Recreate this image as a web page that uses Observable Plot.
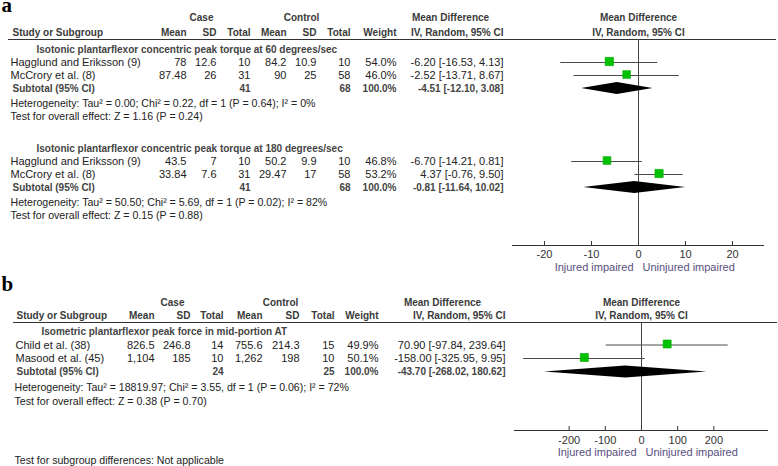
<!DOCTYPE html>
<html><head><meta charset="utf-8">
<script src="https://cdn.jsdelivr.net/npm/d3@7"></script>
<script src="https://cdn.jsdelivr.net/npm/@observablehq/plot@0.6"></script>
<style>body{margin:0;background:#fff}#chart svg{display:block}</style>
</head><body><div id="chart"></div>
<script>
// ---------- DATA: panel a, 60 deg/sec ----------
const a60Title = "Isotonic plantarflexor concentric peak torque at 60 degrees/sec";
const a60Studies = ["Hagglund and Eriksson (9)", "McCrory et al. (8)"];
const a60CaseMean = [78, 87.48];
const a60CaseSD = [12.6, 26];
const a60CaseN = [10, 31];
const a60CtrlMean = [84.2, 90];
const a60CtrlSD = [10.9, 25];
const a60CtrlN = [10, 58];
const a60Weight = [54.0, 46.0];
const a60MD = [-6.20, -2.52];
const a60Lo = [-16.53, -13.71];
const a60Hi = [4.13, 8.67];
const a60Sub = [-4.51, -12.10, 3.08];
const a60Het = "Heterogeneity: Tau² = 0.00; Chi² = 0.22, df = 1 (P = 0.64); I² = 0%";
const a60Test = "Test for overall effect: Z = 1.16 (P = 0.24)";

// ---------- DATA: panel a, 180 deg/sec ----------
const a180Title = "Isotonic plantarflexor concentric peak torque at 180 degrees/sec";
const a180Studies = ["Hagglund and Eriksson (9)", "McCrory et al. (8)"];
const a180CaseMean = [43.5, 33.84];
const a180CaseSD = [7, 7.6];
const a180CaseN = [10, 31];
const a180CtrlMean = [50.2, 29.47];
const a180CtrlSD = [9.9, 17];
const a180CtrlN = [10, 58];
const a180Weight = [46.8, 53.2];
const a180MD = [-6.70, 4.37];
const a180Lo = [-14.21, -0.76];
const a180Hi = [0.81, 9.50];
const a180Sub = [-0.81, -11.64, 10.02];
const a180Het = "Heterogeneity: Tau² = 50.50; Chi² = 5.69, df = 1 (P = 0.02); I² = 82%";
const a180Test = "Test for overall effect: Z = 0.15 (P = 0.88)";

// ---------- DATA: panel b ----------
const bTitle = "Isometric plantarflexor peak force in mid-portion AT";
const bStudies = ["Child et al. (38)", "Masood et al. (45)"];
const bCaseMean = [826.5, 1104];
const bCaseSD = [246.8, 185];
const bCaseN = [14, 10];
const bCtrlMean = [755.6, 1262];
const bCtrlSD = [214.3, 198];
const bCtrlN = [15, 10];
const bWeight = [49.9, 50.1];
const bMD = [70.90, -158.00];
const bLo = [-97.84, -325.95];
const bHi = [239.64, 9.95];
const bSub = [-43.70, -268.02, 180.62];
const bHet = "Heterogeneity: Tau² = 18819.97; Chi² = 3.55, df = 1 (P = 0.06); I² = 72%";
const bTest = "Test for overall effect: Z = 0.38 (P = 0.70)";
const bFooter = "Test for subgroup differences: Not applicable";

// ---------- TICKS & LABELS ----------
const aTicks = [-20, -10, 0, 10, 20];
const bTicks = [-200, -100, 0, 100, 200];
const leftFavour = "Injured impaired";
const rightFavour = "Uninjured impaired";
const headCase = "Case", headControl = "Control", headMD = "Mean Difference", headIV = "IV, Random, 95% CI";
const headCols = ["Study or Subgroup", "Mean", "SD", "Total", "Mean", "SD", "Total", "Weight"];

// ---------- helpers ----------
const num = d3.format(",");
const f2 = d => d.toFixed(2);
const ci = (m, l, h) => `${f2(m)} [${f2(l)}, ${f2(h)}]`;

function group(title, studies, cm, cs, cn, km, ks, kn, w, md, lo, hi, sub, het, test) {
  return {
    title, het, test, sub,
    caseTotal: d3.sum(cn), ctrlTotal: d3.sum(kn),
    studies: studies.map((s, i) => ({
      name: s, cm: num(cm[i]), cs: num(cs[i]), cn: String(cn[i]),
      km: num(km[i]), ks: num(ks[i]), kn: String(kn[i]),
      w: w[i], md: md[i], lo: lo[i], hi: hi[i]
    }))
  };
}

function panel(P) {
  const rows = [], studies = [], subs = [], diamond = [];
  P.groups.forEach((g, gi) => {
    const y0 = P.groupY[gi];
    rows.push({type: "group", label: g.title, y: y0});
    g.studies.forEach((s, i) => {
      const r = {...s, type: "study", y: y0 + P.step * (i + 1)};
      rows.push(r); studies.push(r);
    });
    const ys = y0 + P.step * (g.studies.length + 1);
    const sr = {type: "sub", y: ys, cn: String(g.caseTotal), kn: String(g.ctrlTotal),
      w: "100.0%", mdText: ci(...g.sub)};
    rows.push(sr); subs.push(sr);
    const [m, l, h] = g.sub;
    diamond.push({x: l, y1: ys, y2: ys, z: gi}, {x: m, y1: ys - P.dh, y2: ys + P.dh, z: gi}, {x: h, y1: ys, y2: ys, z: gi});
    rows.push({type: "note", label: g.het, y: ys + P.hetGap});
    rows.push({type: "note", label: g.test, y: ys + P.hetGap + P.testGap});
  });

  const C = P.cols;
  const base = {frameAnchor: "left", fontSize: 11, fill: "#222"};
  const bold = {...base, fontWeight: "bold", fontSize: 10, fill: "#3a3a3a"};
  const marks = [];
  const col = (data, key, x, anchor, style = base) =>
    marks.push(Plot.text(data, {...style, y: "y", text: key, dx: x, textAnchor: anchor}));

  // panel letter
  marks.push(Plot.text([P.letter], {text: d => d, y: P.letterY, frameAnchor: "left", dx: 1, textAnchor: "start",
    fontFamily: "Liberation Serif, serif", fontWeight: "bold", fontSize: 21, fill: "#000"}));
  // headers
  marks.push(Plot.text([headCase], {...bold, text: d => d, y: P.h1, dx: C.caseHead, textAnchor: "middle"}));
  marks.push(Plot.text([headControl], {...bold, text: d => d, y: P.h1, dx: C.ctrlHead, textAnchor: "middle"}));
  marks.push(Plot.text([headMD], {...bold, text: d => d, y: P.h1, dx: C.mdHead, textAnchor: "middle"}));
  marks.push(Plot.text([headMD], {...bold, frameAnchor: undefined, text: d => d, x: 0, y: P.h1, textAnchor: "middle"}));
  const hx = [C.studyHead, C.cm, C.cs, C.cn, C.km, C.ks, C.kn, C.w];
  headCols.forEach((h, i) => marks.push(Plot.text([h], {...bold, text: d => d, y: P.h2, dx: hx[i], textAnchor: i === 0 ? "start" : "end"})));
  marks.push(Plot.text([headIV], {...bold, text: d => d, y: P.h2, dx: C.md, textAnchor: "end"}));
  marks.push(Plot.text([headIV], {...bold, frameAnchor: undefined, text: d => d, x: 0, y: P.h2, textAnchor: "middle"}));
  marks.push(Plot.ruleY([P.line], {stroke: "#333", strokeWidth: 1, insetLeft: P.lineL, insetRight: P.lineR}));

  // table body
  col(rows.filter(r => r.type === "group"), "label", C.group, "start", {...bold, fill: "#444"});
  col(studies, "name", C.study, "start");
  col(studies, "cm", C.cm, "end");
  col(studies, "cs", C.cs, "end");
  col(studies, "cn", C.cn, "end");
  col(studies, "km", C.km, "end");
  col(studies, "ks", C.ks, "end");
  col(studies, "kn", C.kn, "end");
  col(studies, d => d.w.toFixed(1) + "%", C.w, "end");
  col(studies, d => ci(d.md, d.lo, d.hi), C.md, "end");
  col(subs, () => "Subtotal (95% CI)", C.sub, "start", {...bold, fill: "#444"});
  col(subs, "cn", C.cn, "end", {...bold, fill: "#444"});
  col(subs, "kn", C.kn, "end", {...bold, fill: "#444"});
  col(subs, "w", C.w, "end", {...bold, fill: "#444"});
  col(subs, "mdText", C.md, "end", {...bold, fill: "#444"});
  col(rows.filter(r => r.type === "note"), "label", C.note, "start", {...base, fontSize: 10.6});

  // forest plot
  marks.push(Plot.ruleX([0], {y1: P.line, y2: P.axisY, stroke: "#444", strokeWidth: 1}));
  marks.push(Plot.ruleY(studies, {y: "y", x1: "lo", x2: "hi", stroke: "#4a4a4a", strokeWidth: 1}));
  marks.push(Plot.dot(studies, {x: "md", y: d => d.y - 1, r: "w", symbol: "square", fill: "#00c200", stroke: "#00a800", strokeWidth: 0.6}));
  marks.push(Plot.areaY(diamond, {x: "x", y1: "y1", y2: "y2", z: "z", fill: "#000"}));
  // axis
  marks.push(Plot.ruleY([P.axisY], {x1: P.domain[0], x2: P.domain[1], stroke: "#333"}));
  marks.push(Plot.ruleX(P.ticks, {x: d => d, y1: P.axisY - 4, y2: P.axisY, stroke: "#333"}));
  marks.push(Plot.text(P.ticks, {x: d => d, y: P.tickY, text: d => String(d), fontSize: 11, fill: "#333"}));
  marks.push(Plot.text([leftFavour], {x: 0, y: P.favY, text: d => d, textAnchor: "end", dx: -5, fontSize: 11, fill: "#584e7e"}));
  marks.push(Plot.text([rightFavour], {x: 0, y: P.favY, text: d => d, textAnchor: "start", dx: 4, fontSize: 11, fill: "#584e7e"}));
  if (P.footer) marks.push(Plot.text([P.footer], {...base, text: d => d, y: P.footerY, dx: C.note, textAnchor: "start", fontSize: 10.6}));

  return Plot.plot({
    width: 778, height: P.height,
    marginLeft: 0, marginRight: 0, marginTop: 0, marginBottom: 0,
    style: {fontFamily: "Liberation Sans, Arial, sans-serif", background: "#fff", overflow: "visible"},
    x: {domain: P.domain, range: P.range, axis: null},
    y: {domain: [0, P.height], range: [0, P.height], axis: null},
    r: {type: "sqrt", domain: [0, 100], range: [0, 6.4]},
    marks
  });
}

const gA60 = group(a60Title, a60Studies, a60CaseMean, a60CaseSD, a60CaseN, a60CtrlMean, a60CtrlSD, a60CtrlN, a60Weight, a60MD, a60Lo, a60Hi, a60Sub, a60Het, a60Test);
const gA180 = group(a180Title, a180Studies, a180CaseMean, a180CaseSD, a180CaseN, a180CtrlMean, a180CtrlSD, a180CtrlN, a180Weight, a180MD, a180Lo, a180Hi, a180Sub, a180Het, a180Test);
const gB = group(bTitle, bStudies, bCaseMean, bCaseSD, bCaseN, bCtrlMean, bCtrlSD, bCtrlN, bWeight, bMD, bLo, bHi, bSub, bHet, bTest);

const plotA = panel({
  letter: "a", letterY: 5, height: 272,
  h1: 17, h2: 32, line: 39, lineL: 8, lineR: 2,
  groups: [gA60, gA180], groupY: [49, 148], step: 13, hetGap: 15, testGap: 13, dh: 6,
  axisY: 245, tickY: 254, favY: 267,
  domain: [-26.8, 26.8], range: [512, 764], ticks: aTicks,
  cols: {studyHead: 12, study: 10, group: 36, sub: 12, note: 10, caseHead: 201, ctrlHead: 301, mdHead: 450,
    cm: 186, cs: 216, cn: 250, km: 286, ks: 316, kn: 350, w: 396, md: 503}
});
const plotB = panel({
  letter: "b", letterY: 11.5, height: 194,
  h1: 30, h2: 43, line: 50, lineL: 13, lineR: 1,
  groups: [gB], groupY: [59], step: 13.5, hetGap: 16, testGap: 14, dh: 6,
  axisY: 158, tickY: 168, favY: 180, footer: bFooter, footerY: 188,
  domain: [-351, 351], range: [514, 768], ticks: bTicks,
  cols: {studyHead: 16, study: 15, group: 41, sub: 16, note: 14, caseHead: 172, ctrlHead: 280, mdHead: 442,
    cm: 154, cs: 190, cn: 223, km: 262, ks: 299, kn: 334, w: 378, md: 505}
});
document.getElementById("chart").append(plotA, plotB);
</script>
</body></html>
